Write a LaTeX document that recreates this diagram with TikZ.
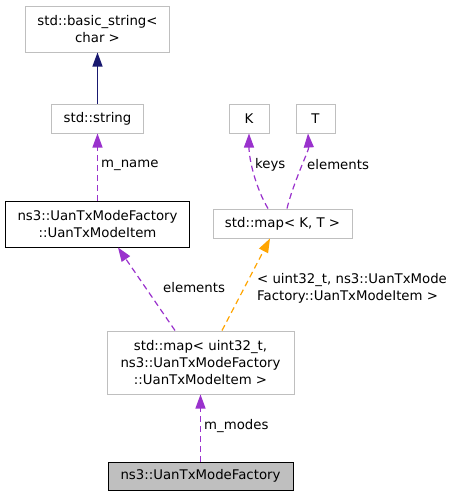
\documentclass[tikz,border=0pt]{standalone}
\usepackage{fontspec}
\setmainfont{DejaVu Sans}
\usetikzlibrary{arrows.meta}
\definecolor{boxgray}{HTML}{BFBFBF}
\definecolor{memberpurple}{HTML}{9A32CD}
\definecolor{tplorange}{HTML}{FFA500}
\definecolor{basenavy}{HTML}{191970}
\begin{document}
\begin{tikzpicture}[x=1pt, y=-1pt,
    cls/.style={draw=boxgray, line width=1pt, fill=white, align=center, inner sep=0pt, font=\fontsize{13.3}{17}\selectfont},
    usage/.style={memberpurple, line width=1.2pt, dash pattern=on 6pt off 4pt, -{Triangle[length=14pt,width=10pt]}},
    tmpl/.style={tplorange, line width=1.2pt, dash pattern=on 6pt off 4pt, -{Triangle[length=14pt,width=10pt]}},
    lbl/.style={font=\fontsize{13.3}{17}\selectfont, align=left, anchor=west, inner sep=0pt}]
    % Canvas
    \useasboundingbox[fill=white] (0,0) rectangle (453,496);

    % Classes
    \node[cls, minimum width=144pt, minimum height=46pt] (bstr) at (97.5,29) {std::basic\_string<\\char >};
    \node[cls, minimum width=92pt, minimum height=29pt] (str) at (97.5,118.5) {std::string};
    \node[cls, draw=black, minimum width=184pt, minimum height=46pt] (item) at (97.5,224) {ns3::UanTxModeFactory\\::UanTxModeItem};
    \node[cls, minimum width=40pt, minimum height=29pt] (K) at (249,118.5) {K};
    \node[cls, minimum width=39pt, minimum height=29pt] (T) at (315.5,118.5) {T};
    \node[cls, minimum width=139pt, minimum height=29pt] (mapkt) at (282.5,223.5) {std::map< K, T >};
    \node[cls, minimum width=187pt, minimum height=63pt] (bigmap) at (200.5,362.5) {std::map< uint32\_t,\\ns3::UanTxModeFactory\\::UanTxModeItem >};
    \node[cls, draw=black, fill=boxgray, minimum width=185pt, minimum height=28pt] (fac) at (200.5,476) {ns3::UanTxModeFactory};

    % Inheritance
    \draw[basenavy, line width=1.2pt, -{Triangle[length=14pt,width=10pt]}] (str.north) -- (bstr.south);

    % Members
    \draw[usage] (item.north) -- (str.south);
    \draw[usage] ([xshift=-14.5pt]mapkt.north) .. controls ++(-12,-20) and (249,160) .. (K.south);
    \draw[usage] ([xshift=4.5pt]mapkt.north) .. controls ++(6,-25) and (309,150) .. ([xshift=-7.5pt]T.south);
    \draw[usage] ([xshift=-25.5pt]bigmap.north) -- ([xshift=20.5pt]item.south);
    \draw[usage] (fac.north) -- (bigmap.south);

    % Template instance
    \draw[tmpl] ([xshift=21.5pt]bigmap.north) -- ([xshift=-12.5pt]mapkt.south);

    % Labels
    \node[lbl] (lname) at (101,165) {m\_name};
    \node[lbl] (lkeys) at (255,165) {keys};
    \node[lbl] (lelemT) at (307,165) {elements};
    \node[lbl] (lelem) at (163,288) {elements};
    \node[lbl] (lmodes) at (204,426) {m\_modes};
    \node[lbl] (linst) at (257,288) {< uint32\_t, ns3::UanTxMode\\Factory::UanTxModeItem >};
\end{tikzpicture}
\end{document}
